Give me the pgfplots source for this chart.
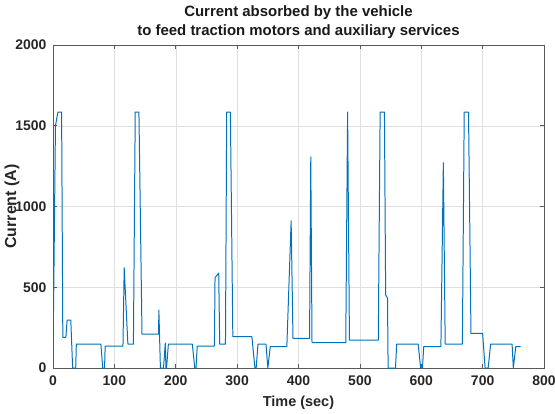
\documentclass[border=0pt]{standalone}
\usepackage{pgfplots}
\pgfplotsset{compat=1.18}
\usepackage{fontspec}
\setmainfont{Liberation Sans}
\definecolor{mblue}{rgb}{0,0.447,0.741}
\begin{document}
\begin{tikzpicture}
\begin{axis}[
  name=ax,
  scale only axis,
  width=491bp, height=323bp,
  xmin=0, xmax=800, ymin=0, ymax=2000,
  xtick={0,100,...,800}, ytick={0,500,...,2000},
  grid=major,
  major grid style={draw=black!12, line width=0.4pt},
  axis line style={draw=black!65, line width=0.6pt},
  tick style={draw=black!65, line width=0.6pt},
  tick align=inside,
  major tick length=4bp,
  /pgf/number format/assume math mode=true,
  /pgf/number format/1000 sep={},
  ticklabel style={font=\fontsize{14}{16}\selectfont\bfseries, text=black!85},
  xticklabel style={yshift=-4bp},
  yticklabel style={xshift=-3bp},
  xlabel={Time (sec)}, ylabel={Current (A)},
  every axis x label/.style={at={(axis description cs:0.5,-0.108)}, anchor=center,
    font=\fontsize{14.5}{17}\selectfont\bfseries, text=black!85},
  every axis y label/.style={at={(axis description cs:-0.0835,0.5)}, rotate=90, anchor=center,
    font=\fontsize{16}{18}\selectfont\bfseries, text=black!85},
  title={Current absorbed by the vehicle\\to feed traction motors and auxiliary services},
  every axis title/.style={at={(axis description cs:0.5,1.0697)}, anchor=center,
    font=\fontsize{15}{19}\selectfont\bfseries, align=center, text=black!90},
]
\addplot[mblue, line width=1.0pt, line join=round] coordinates {
(0,140) (1,400) (4,1500) (8,1585) (14,1585) (16,190) (21,190) (23,297) (29,297)
(32,0) (37,0) (38,148) (78,148) (81,0) (84,0) (85,136) (114,136) (116,621)
(122,148) (131,148) (134,1585) (140,1585) (145,210) (172,210) (172.5,359)
(175,0) (180,0) (183,155) (184,0) (185,0) (188,148) (227,148) (231,0) (233,0)
(235,136) (263,136) (264,559) (270,588) (271.6,148) (281,148) (283,1585)
(289,1585) (293,194) (324,194) (329,0) (331,0) (334,148) (347,148) (350,0)
(354,132) (381,132) (388,912) (391,184) (418,184) (420,1308) (422,157)
(477,157) (480,1585) (483,173) (530,173) (533,1585) (540,1585) (542,452)
(545,433) (546,0) (558,0) (560,148) (595,148) (599,0) (602,0) (604,132)
(632,132) (636,1271) (639,148) (667,148) (670,1585) (677,1585) (681,215)
(700,215) (704,0) (709,0) (713,148) (748,148) (750,0) (754,132) (762,132)
};
\end{axis}
\pgfresetboundingbox
\path ([shift={(-53bp,-45bp)}]ax.south west) rectangle ([shift={(11bp,45bp)}]ax.north east);
\end{tikzpicture}
\end{document}
